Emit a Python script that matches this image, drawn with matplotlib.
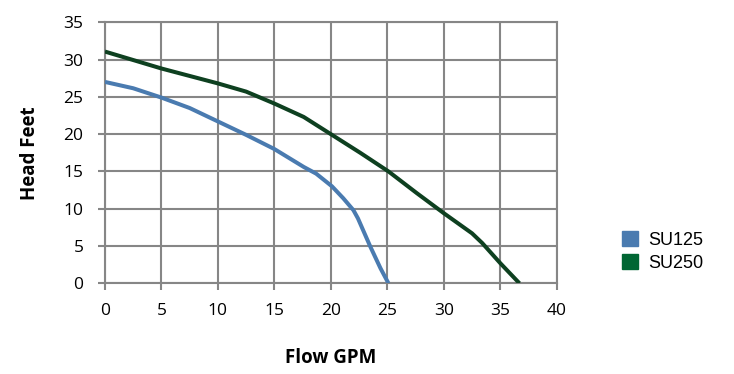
import matplotlib
matplotlib.use("Agg")
import matplotlib.pyplot as plt
from matplotlib.patches import Patch

plt.rcParams['font.family'] = ['Open Sans', 'DejaVu Sans']

su125_flow = [0, 2.5, 5, 7.5, 10, 12.5, 15, 17.6, 18.7, 20.1, 21.1, 22.0, 22.4, 23.5, 24.4, 25.1]
su125_head = [27, 26.15, 24.9, 23.5, 21.7, 19.9, 18.0, 15.6, 14.7, 13.0, 11.4, 9.8, 8.7, 4.9, 2.0, 0]

su250_flow = [0, 5, 10, 12.5, 15, 17.6, 20.1, 22.6, 25.1, 27.6, 30, 32.5, 33.4, 35, 36.7]
su250_head = [31.07, 28.8, 26.8, 25.7, 24.1, 22.3, 19.9, 17.5, 15.0, 12.1, 9.4, 6.7, 5.4, 2.7, 0]

blue = '#4a7bb0'
green_line = '#0e4020'
green_legend = '#006633'
grid_gray = '#868686'

fig = plt.figure(figsize=(7.34, 3.74), dpi=100)
ax = fig.add_axes([0.143, 0.2425, 0.6155, 0.698])

ax.plot(su125_flow, su125_head, color=blue, lw=2.9, solid_capstyle='butt',
        solid_joinstyle='round', zorder=3)
ax.plot(su250_flow, su250_head, color=green_line, lw=2.9, solid_capstyle='butt',
        solid_joinstyle='round', zorder=3)

ax.set_xlim(0, 40)
ax.set_ylim(0, 35)
ax.set_xticks(range(0, 41, 5))
ax.set_yticks(range(0, 36, 5))
ax.grid(True, color=grid_gray, lw=1.5)
ax.set_axisbelow(True)
for s in ax.spines.values():
    s.set_color(grid_gray)
    s.set_linewidth(1.5)
ax.tick_params(axis='both', length=5, width=1.5, color=grid_gray, labelsize=12.5)
ax.tick_params(axis='x', pad=9)
ax.tick_params(axis='y', pad=10.5)

ax.set_xlabel('Flow GPM', fontsize=13.5, fontweight='bold', va='center')
ax.set_ylabel('Head Feet', fontsize=13.5, fontweight='bold', va='center', ha='center')
ax.xaxis.set_label_coords(0.5, -0.286)
ax.yaxis.set_label_coords(-0.166, 0.5)

handles = [Patch(color=blue, label='SU125'), Patch(color=green_legend, label='SU250')]
fig.legend(handles=handles, loc='center left', bbox_to_anchor=(0.847, 0.327), frameon=False,
           borderpad=0, borderaxespad=0,
           prop={'family': 'Liberation Sans', 'size': 13},
           handlelength=0.89, handleheight=0.89, handletextpad=0.6, labelspacing=0.3)

fig.savefig('out.png', dpi=100)
